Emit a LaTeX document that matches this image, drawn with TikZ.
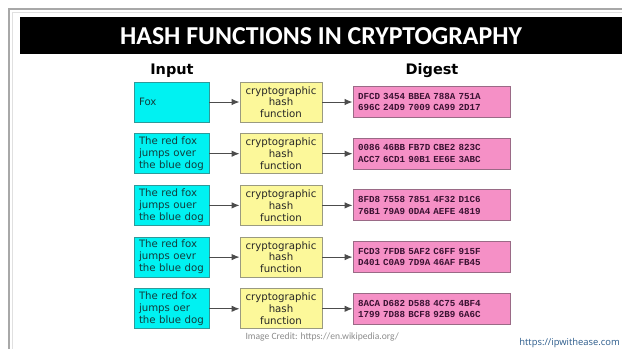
\documentclass[tikz,border=0pt]{standalone}
\usepackage{fontspec}
\usetikzlibrary{arrows.meta}
\setmainfont{DejaVu Sans}
\newfontfamily\titlefont{Carlito}
\newfontfamily\headfont{DejaVu Sans}
\newfontfamily\hexfont{Liberation Mono}
\newfontfamily\sitefont{Open Sans}

\definecolor{cyanfill}{HTML}{00F2F2}
\definecolor{cyanedge}{HTML}{2E9A9A}
\definecolor{cyantext}{HTML}{123C3C}
\definecolor{yelfill}{HTML}{FCF89A}
\definecolor{yeledge}{HTML}{9A9A80}
\definecolor{pinkfill}{HTML}{F590C6}
\definecolor{pinkedge}{HTML}{9A6A86}
\definecolor{pinktext}{HTML}{3A1232}
\definecolor{framegray}{HTML}{A8A8A8}
\definecolor{linkblue}{HTML}{2C5C8C}

\tikzset{
  inbox/.style={draw=cyanedge, fill=cyanfill, line width=0.9pt, text=cyantext,
    text width=65pt, inner xsep=5pt, inner ysep=0pt, minimum height=40pt,
    align=left, font=\fontsize{10.2}{12}\selectfont},
  hashbox/.style={draw=yeledge, fill=yelfill, line width=0.9pt, text=black!85,
    text width=72pt, inner xsep=5pt, inner ysep=0pt, minimum height=40pt,
    align=center, font=\fontsize{10.2}{11.8}\selectfont},
  digbox/.style={draw=pinkedge, fill=pinkfill, line width=0.9pt, text=pinktext,
    text width=147pt, inner xsep=5pt, inner ysep=0pt, minimum height=31pt,
    align=left, font=\hexfont\bfseries\fontsize{9.2}{11.5}\selectfont},
  flow/.style={draw=black!70, line width=1pt, -{Latex[length=8pt,width=6.5pt]}},
  colhead/.style={font=\headfont\bfseries\fontsize{14.5}{16}\selectfont},
}

\begin{document}
\begin{tikzpicture}[x=1pt,y=-1pt]
\useasboundingbox (0,0) rectangle (622,349);
\clip (0,0) rectangle (622,349);
\fill[white] (0,0) rectangle (622,349);

% page frame
\draw[framegray, line width=1.2pt] (9,349) -- (9,9) -- (622,9);
\draw[black!12, line width=1pt] (12.5,349) -- (12.5,12.5) -- (622,12.5);

% title bar
\fill[black] (20,17) rectangle (622,54);
\node[text=white, font=\titlefont\bfseries\fontsize{25.8}{28}\selectfont] (title) at (321,36) {HASH FUNCTIONS IN CRYPTOGRAPHY};

% column headings
\node[colhead] (inhead) at (172,71) {Input};
\node[colhead] (dighead) at (432,71) {Digest};

% rows: input -> hash function -> digest
\foreach \i/\txt/\hexa/\hexb in {
  1/{Fox}/{DFCD 3454 BBEA 788A 751A}/{696C 24D9 7009 CA99 2D17},
  2/{The red fox\\jumps over\\the blue dog}/{0086 46BB FB7D CBE2 823C}/{ACC7 6CD1 90B1 EE6E 3ABC},
  3/{The red fox\\jumps ouer\\the blue dog}/{8FD8 7558 7851 4F32 D1C6}/{76B1 79A9 0DA4 AEFE 4819},
  4/{The red fox\\jumps oevr\\the blue dog}/{FCD3 7FDB 5AF2 C6FF 915F}/{D401 C0A9 7D9A 46AF FB45},
  5/{The red fox\\jumps oer\\the blue dog}/{8ACA D682 D588 4C75 4BF4}/{1799 7D88 BCF8 92B9 6A6C}}
{
  \pgfmathsetmacro{\yy}{102+51.7*(\i-1)}
  \node[inbox]   (in\i) at (171.5,\yy) {\txt};
  \node[hashbox] (h\i)  at (281,\yy)   {cryptographic\\hash\\function};
  \node[digbox]  (d\i)  at (431.5,\yy) {\hexa\\\hexb};
  \draw[flow] (in\i) -- (h\i);
  \draw[flow] (h\i) -- (d\i);
}

% credits
\node[text=black!45, font=\titlefont\fontsize{9.6}{11}\selectfont, anchor=west] (credit) at (242,337) {Image Credit: https://en.wikipedia.org/};
\node[text=linkblue, font=\sitefont\fontsize{9.4}{11}\selectfont, anchor=east, inner sep=1pt] (site) at (621,343.5) {https://ipwithease.com};
\end{tikzpicture}
\end{document}
